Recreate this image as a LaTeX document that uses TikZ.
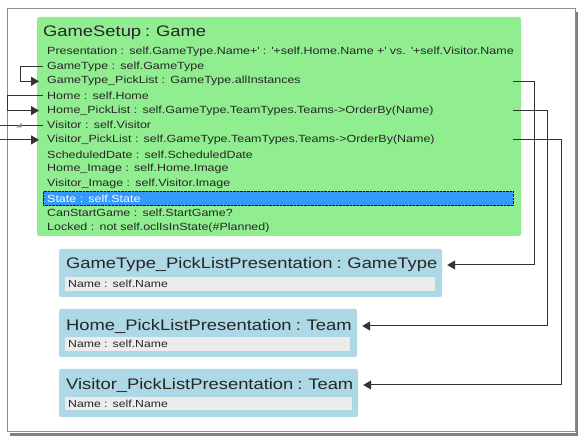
\documentclass[tikz,border=0pt]{standalone}
\usepackage{fontspec}
\setmainfont{Liberation Sans}
\newfontfamily\diagfont[FakeStretch=1.2,WordSpace=0.8]{Liberation Sans}
\usetikzlibrary{arrows.meta,positioning}
\definecolor{setupgreen}{RGB}{144,238,144}
\definecolor{pickblue}{RGB}{173,216,230}
\definecolor{selblue}{RGB}{51,153,255}
\definecolor{namegray}{RGB}{236,236,236}
\newcommand{\sq}{\textquotesingle}
\tikzstyle{setupbox}=[fill=setupgreen,rounded corners=2pt]
\tikzstyle{pickbox}=[fill=pickblue,rounded corners=2pt]
\tikzstyle{classtitle}=[anchor=west,inner sep=0pt,font=\diagfont\fontsize{15.3}{16}\selectfont,text=black!85]
\tikzstyle{row}=[anchor=west,inner xsep=4pt,inner ysep=0pt,text width=462pt,minimum height=14.25pt,font=\diagfont\fontsize{10.4}{11}\selectfont,text=black!85]
\tikzstyle{selected}=[fill=selblue,draw=blue!50!black,densely dotted,text=white]
\tikzstyle{namestrip}=[fill=namegray,anchor=west,inner xsep=3pt,inner ysep=0pt,minimum height=13.5pt,font=\diagfont\fontsize{10.2}{10.5}\selectfont,text=black!85,text depth=0pt]
\tikzstyle{link}=[draw=black!80,line width=1pt,-{Triangle[length=8pt,width=9pt]}]

\begin{document}
\begin{tikzpicture}[x=1pt,y=-1pt]
  \useasboundingbox (0,0) rectangle (587,443);
  \clip (0,0) rectangle (587,443);
  % frame and shadow
  \draw[black!50,line width=2.5pt] (577,12) -- (577,434.5) -- (10,434.5);
  \draw[black!45,line width=1pt,fill=white] (7,9) rectangle (575,432);

  % GameSetup class
  \node[setupbox,minimum width=484pt,minimum height=219pt] (setup) at (279,126.5) {};
  \node[classtitle] (title) at (43,33) {GameSetup : Game};
  \node[row] (pres) at (43,52) {\mbox{Presentation : self.GameType.Name+\sq\ : \sq+self.Home.Name +\sq\ vs. \sq+self.Visitor.Name}};
  \node[row,below=0pt of pres] (gt) {GameType : self.GameType};
  \node[row,below=0pt of gt] (gtpl) {GameType\_PickList : GameType.allInstances};
  \node[row,below=0pt of gtpl] (home) {Home : self.Home};
  \node[row,below=0pt of home] (hpl) {Home\_PickList : self.GameType.TeamTypes.Teams->OrderBy(Name)};
  \node[row,below=0pt of hpl] (vis) {Visitor : self.Visitor};
  \node[row,below=0pt of vis] (vpl) {Visitor\_PickList : self.GameType.TeamTypes.Teams->OrderBy(Name)};
  \node[row,below=0pt of vpl] (date) {ScheduledDate : self.ScheduledDate};
  \node[row,below=0pt of date] (himg) {Home\_Image : self.Home.Image};
  \node[row,below=0pt of himg] (vimg) {Visitor\_Image : self.Visitor.Image};
  \node[row,selected,below=0pt of vimg] (state) {State : self.State};
  \node[row,below=0pt of state] (start) {CanStartGame : self.StartGame?};
  \node[row,below=0pt of start] (locked) {Locked : not self.oclIsInState(\#Planned)};

  % pick list presentations
  \node[pickbox,minimum width=383pt,minimum height=48pt] (gtpbox) at (250.5,273) {};
  \node[classtitle] (gtp) at (66,265) {GameType\_PickListPresentation : GameType};
  \node[namestrip,text width=364pt] (gtpname) at (65,284) {Name : self.Name};

  \node[pickbox,minimum width=298pt,minimum height=48pt] (hpbox) at (208,333) {};
  \node[classtitle] (hp) at (66,326) {Home\_PickListPresentation : Team};
  \node[namestrip,text width=279pt] (hpname) at (65,344) {Name : self.Name};

  \node[pickbox,minimum width=299pt,minimum height=48pt] (vpbox) at (208.5,393) {};
  \node[classtitle] (vp) at (66,385) {Visitor\_PickListPresentation : Team};
  \node[namestrip,text width=281pt] (vpname) at (65,403.5) {Name : self.Name};

  % links inside GameSetup
  \draw[link] (gt.west) -- ++(-23,0) |- ([xshift=-4pt]gtpl.west);
  \draw[link] (home.west) -- ++(-36,0) |- ([xshift=-4pt]hpl.west);
  \draw[link] (vis.west) -- ++(-55,0) |- ([xshift=-4pt]vpl.west);
  \fill[black!45] (16,127.5) -- (21.5,127.5) -- (21.5,123) -- cycle;

  % links to the presentations
  \draw[link] (gtpl.east) -- ++(21,0) |- ([xshift=5pt]gtpbox.east |- gtp);
  \draw[link] (hpl.east) -- ++(34,0) |- ([xshift=5pt]hpbox.east |- hp);
  \draw[link] (vpl.east) -- ++(48,0) |- ([xshift=5pt]vpbox.east |- vp);
\end{tikzpicture}
\end{document}
